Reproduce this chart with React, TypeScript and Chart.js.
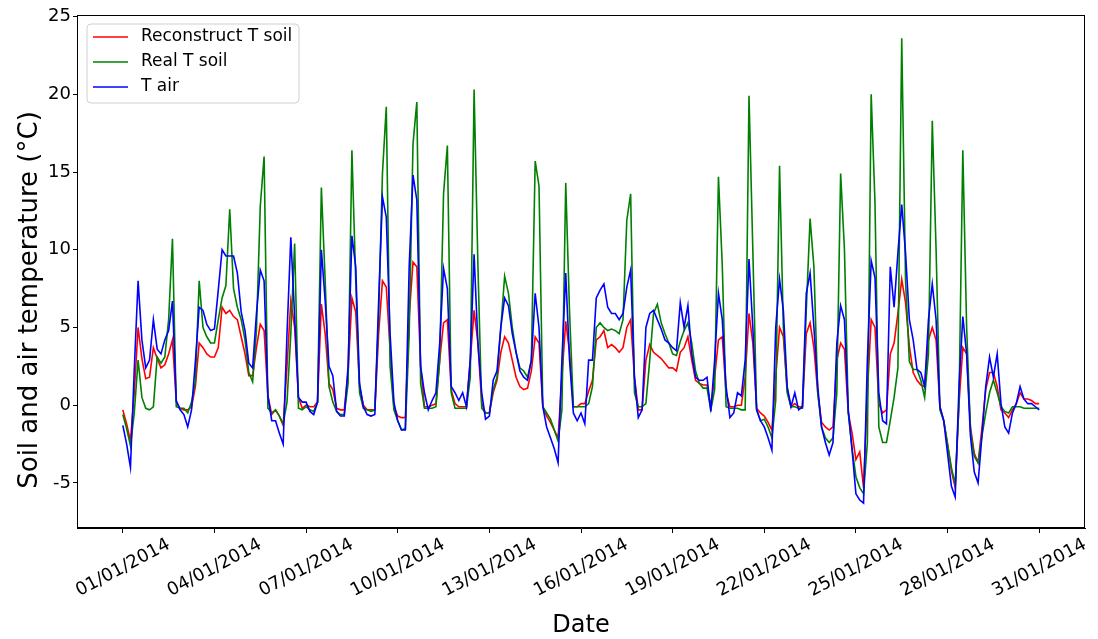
import React, { useEffect, useRef } from "react";
import { Chart, registerables } from "chart.js";

Chart.register(...registerables);

// Sampling step of the series (hours), starting 01/01/2014 00:00
const STEP_HOURS = 3;

const reconstructTSoil = [
  -0.3, -1.2, -2.3, 0.8, 5.0, 3.0, 1.7, 1.8,
  3.7, 3.0, 2.4, 2.6, 3.3, 4.2, 0.2, -0.2,
  -0.3, -0.3, -0.1, 1.2, 4.0, 3.7, 3.3, 3.1,
  3.1, 3.7, 6.3, 5.9, 6.1, 5.7, 5.5, 4.4,
  3.3, 1.9, 1.9, 3.7, 5.2, 4.8, 0.6, -0.6,
  -0.3, -0.7, -1.3, 2.5, 6.7, 5.0, 0.5, -0.2,
  0.0, -0.1, -0.1, 0.2, 6.5, 4.6, 1.4, 1.0,
  -0.2, -0.3, -0.3, 2.1, 6.9, 6.0, 1.2, 0.0,
  -0.3, -0.3, -0.3, 4.6, 8.0, 7.6, 3.6, -0.1,
  -0.7, -0.8, -0.8, 5.7, 9.2, 8.9, 2.5, -0.1,
  -0.1, 0.0, 0.1, 2.9, 5.3, 5.5, 1.0, 0.1,
  -0.1, -0.1, -0.1, 2.9, 6.1, 4.0, 0.1, -0.5,
  -0.5, 0.8, 1.6, 3.4, 4.4, 4.0, 2.9, 1.8,
  1.2, 1.0, 1.1, 2.2, 4.4, 4.0, -0.1, -0.7,
  -1.1, -1.6, -2.1, 1.8, 5.4, 3.4, -0.1, -0.1,
  0.1, 0.1, 0.9, 1.6, 4.2, 4.4, 4.8, 3.7,
  3.9, 3.7, 3.4, 3.7, 5.0, 5.5, 1.8, -0.3,
  -0.3, 2.9, 3.9, 3.4, 3.2, 3.0, 2.7, 2.4,
  2.4, 2.2, 3.4, 3.7, 4.4, 2.9, 1.6, 1.4,
  1.3, 1.3, -0.1, 1.8, 4.2, 4.4, 0.8, -0.1,
  -0.1, 0.0, 0.0, 1.8, 5.9, 4.0, -0.2, -0.5,
  -0.7, -1.1, -1.6, 1.8, 5.0, 4.4, 1.0, -0.1,
  0.1, -0.1, -0.1, 4.6, 5.3, 3.7, 0.8, -1.1,
  -1.4, -1.6, -1.4, 2.9, 4.0, 3.6, -0.5, -1.8,
  -3.5, -3.0, -5.3, 0.8, 5.5, 5.0, 0.1, -0.5,
  -0.3, 3.3, 4.0, 5.9, 8.1, 6.6, 3.8, 2.1,
  1.6, 1.3, 1.2, 4.2, 5.0, 4.2, -0.1, -1.0,
  -2.5, -4.2, -5.3, 0.1, 3.7, 3.3, -1.4, -3.1,
  -3.7, -1.5, 1.0, 2.1, 2.1, 1.2, -0.3, -0.5,
  -0.8, -0.3, 0.1, 0.8, 0.4, 0.4, 0.3, 0.1,
  0.1,
];

const realTSoil = [
  -0.6, -1.5, -2.6, -0.5, 2.9, 0.5, -0.2, -0.3,
  -0.1, 3.1, 2.7, 3.1, 5.5, 10.7, -0.1, -0.2,
  -0.2, -0.5, 0.2, 1.5, 8.0, 5.0, 4.4, 4.0,
  4.0, 5.5, 6.9, 7.7, 12.6, 7.5, 6.3, 5.5,
  4.2, 2.1, 1.5, 4.8, 12.8, 16.0, -0.2, -0.5,
  -0.3, -0.7, -1.2, 0.2, 4.6, 10.4, -0.2, -0.3,
  -0.1, -0.3, -0.4, 0.2, 14.0, 8.0, 1.2, 0.2,
  -0.4, -0.6, -0.6, 1.4, 16.4, 8.0, 0.8, -0.2,
  -0.3, -0.4, -0.3, 5.7, 14.9, 19.2, 2.5, -0.3,
  -1.0, -1.6, -1.5, 4.6, 16.8, 19.5, 1.4, -0.2,
  -0.2, -0.2, -0.1, 2.9, 13.6, 16.7, 0.8, -0.2,
  -0.2, -0.2, -0.2, 1.8, 20.3, 9.0, -0.2, -0.5,
  -0.5, 1.0, 1.8, 5.0, 8.3, 7.2, 5.0, 3.4,
  2.4, 2.2, 1.8, 2.9, 15.7, 14.1, -0.1, -0.5,
  -0.9, -1.6, -2.3, -0.3, 14.3, 6.0, -0.1, -0.1,
  -0.1, -0.1, 0.1, 1.2, 5.0, 5.3, 5.0, 4.8,
  4.9, 4.8, 4.6, 5.5, 11.9, 13.6, 0.8, -0.1,
  -0.1, 0.1, 2.9, 5.9, 6.5, 5.3, 4.6, 4.0,
  3.3, 3.2, 4.1, 4.8, 5.3, 4.0, 2.2, 1.4,
  1.1, 1.1, -0.3, 1.0, 14.7, 9.0, -0.1, -0.2,
  -0.2, -0.2, -0.3, -0.3, 19.9, 10.0, -0.3, -1.0,
  -0.9, -1.4, -2.1, 0.3, 15.4, 5.0, 0.8, -0.1,
  -0.1, -0.2, -0.2, 6.1, 12.0, 8.9, 0.8, -1.4,
  -2.1, -2.4, -2.1, 0.8, 14.9, 10.0, -0.5, -2.8,
  -4.6, -5.3, -5.7, -2.4, 20.0, 13.0, -1.4, -2.4,
  -2.4, -1.0, 0.5, 2.4, 23.6, 8.0, 2.8, 2.3,
  2.3, 1.6, 0.5, 3.3, 18.3, 10.0, -0.3, -1.0,
  -2.5, -4.0, -5.1, 0.1, 16.4, 5.0, -1.6, -3.3,
  -3.7, -2.0, -0.5, 0.8, 1.6, 0.8, -0.1, -0.4,
  -0.5, -0.1, -0.1, -0.1, -0.2, -0.2, -0.2, -0.2,
  -0.2,
];

const tAir = [
  -1.3, -2.5, -4.0, 2.3, 8.0, 4.2, 2.4, 2.9,
  5.5, 3.6, 3.3, 4.2, 4.8, 6.7, 0.3, -0.3,
  -0.6, -1.4, -0.3, 2.8, 6.3, 6.1, 5.2, 4.8,
  4.9, 7.4, 10.0, 9.6, 9.6, 9.6, 8.5, 6.0,
  4.8, 2.7, 2.4, 5.9, 8.7, 8.0, 0.6, -1.0,
  -1.0, -1.8, -2.5, 4.6, 10.8, 5.7, 0.5, 0.2,
  0.2, -0.4, -0.6, 0.2, 10.0, 6.7, 2.5, 1.9,
  -0.4, -0.7, -0.7, 2.5, 10.9, 8.9, 1.4, -0.1,
  -0.6, -0.7, -0.6, 6.7, 13.4, 12.1, 4.6, 0.2,
  -1.0, -1.6, -1.6, 8.9, 14.8, 13.2, 2.5, 0.8,
  -0.3, 0.3, 0.8, 4.0, 8.8, 7.5, 1.2, 0.8,
  0.3, 0.8, -0.1, 2.9, 9.7, 4.0, 0.8, -0.9,
  -0.7, 1.6, 2.2, 5.0, 6.9, 6.4, 4.6, 3.4,
  2.2, 1.8, 1.6, 2.9, 7.2, 5.0, -0.1, -1.4,
  -2.1, -2.8, -3.7, 2.9, 8.5, 2.9, -0.5, -1.0,
  -0.5, -1.2, 2.9, 2.9, 6.9, 7.4, 7.8, 6.3,
  5.9, 5.9, 5.5, 5.9, 7.6, 8.7, 1.8, -0.8,
  -0.3, 5.0, 5.9, 6.1, 5.5, 4.9, 4.2, 4.0,
  3.7, 3.5, 6.6, 5.0, 6.4, 3.3, 1.8, 1.6,
  1.6, 1.8, -0.4, 2.9, 7.2, 5.5, 1.2, -0.8,
  -0.5, 0.8, 0.6, 2.9, 9.4, 5.0, -0.3, -1.0,
  -1.4, -2.1, -2.9, 5.0, 8.1, 6.1, 1.2, -0.1,
  0.8, -0.3, -0.1, 7.2, 8.5, 5.0, 1.2, -1.4,
  -2.4, -3.2, -2.4, 4.0, 6.4, 5.5, -0.3, -2.9,
  -5.7, -6.1, -6.3, 2.9, 9.3, 8.2, 0.8, -1.0,
  -1.2, 8.9, 6.3, 9.8, 12.9, 9.8, 5.5, 4.2,
  2.3, 2.1, 1.2, 5.5, 7.8, 5.5, -0.1, -1.0,
  -3.1, -5.2, -5.9, 1.2, 5.7, 3.3, -2.0, -4.3,
  -5.0, -2.0, 1.2, 3.1, 1.8, 3.3, 0.1, -1.4,
  -1.8, -0.5, 0.1, 1.2, 0.4, 0.1, 0.1, -0.1,
  -0.3,
];

const seriesNames = ["Reconstruct T soil", "Real T soil", "T air"];
const seriesColors = ["#ff0000", "#008000", "#0000ff"];

const tickDays = [0, 3, 6, 9, 12, 15, 18, 21, 24, 27, 30];
const tickLabels = [
  "01/01/2014", "04/01/2014", "07/01/2014", "10/01/2014", "13/01/2014", "16/01/2014",
  "19/01/2014", "22/01/2014", "25/01/2014", "28/01/2014", "31/01/2014",
];
const yTicks = [-5, 0, 5, 10, 15, 20, 25];
const xTitle = "Date";
const yTitle = "Soil and air temperature (°C)";

const FONT = "'DejaVu Sans', sans-serif";

const framePlugin = {
  id: "frame",
  afterDatasetsDraw(chart: any) {
    const { ctx, chartArea } = chart;
    ctx.save();
    ctx.strokeStyle = "#000";
    ctx.lineWidth = 1;
    ctx.strokeRect(
      Math.round(chartArea.left) + 0.5,
      Math.round(chartArea.top) + 0.5,
      Math.round(chartArea.right - chartArea.left) - 1,
      Math.round(chartArea.bottom - chartArea.top) - 1
    );
    ctx.restore();
  },
};

const yTitlePlugin = {
  id: "yTitle",
  afterDraw(chart: any) {
    const { ctx } = chart;
    ctx.save();
    ctx.translate(30, 300);
    ctx.rotate(-Math.PI / 2);
    ctx.font = `26px ${FONT}`;
    ctx.fillStyle = "#000";
    ctx.textAlign = "center";
    ctx.textBaseline = "middle";
    ctx.fillText(yTitle, 0, 0);
    ctx.restore();
  },
};

const legendPlugin = {
  id: "innerLegend",
  afterDraw(chart: any) {
    const { ctx, chartArea } = chart;
    const x0 = chartArea.left + 10;
    const y0 = chartArea.top + 9;
    const w = 212;
    const h = 79;
    const r = 4;
    ctx.save();
    ctx.beginPath();
    ctx.moveTo(x0 + r, y0);
    ctx.lineTo(x0 + w - r, y0);
    ctx.quadraticCurveTo(x0 + w, y0, x0 + w, y0 + r);
    ctx.lineTo(x0 + w, y0 + h - r);
    ctx.quadraticCurveTo(x0 + w, y0 + h, x0 + w - r, y0 + h);
    ctx.lineTo(x0 + r, y0 + h);
    ctx.quadraticCurveTo(x0, y0 + h, x0, y0 + h - r);
    ctx.lineTo(x0, y0 + r);
    ctx.quadraticCurveTo(x0, y0, x0 + r, y0);
    ctx.closePath();
    ctx.fillStyle = "rgba(255,255,255,0.8)";
    ctx.fill();
    ctx.strokeStyle = "#d0d0d0";
    ctx.lineWidth = 1;
    ctx.stroke();
    ctx.font = `17px ${FONT}`;
    ctx.textBaseline = "middle";
    ctx.textAlign = "left";
    chart.data.datasets.forEach((ds: any, i: number) => {
      const yy = y0 + 13 + i * 25;
      ctx.beginPath();
      ctx.strokeStyle = ds.borderColor;
      ctx.lineWidth = 1.5;
      ctx.moveTo(x0 + 6, yy);
      ctx.lineTo(x0 + 41, yy);
      ctx.stroke();
      ctx.fillStyle = "#000";
      ctx.fillText(ds.label, x0 + 54, yy);
    });
    ctx.restore();
  },
};

export default function App() {
  const ref = useRef<HTMLCanvasElement>(null);

  useEffect(() => {
    const toPoints = (arr: number[]) =>
      arr.map((v, i) => ({ x: (i * STEP_HOURS) / 24, y: v }));
    const series = [reconstructTSoil, realTSoil, tAir];
    const chart = new Chart(ref.current as HTMLCanvasElement, {
      type: "line",
      data: {
        datasets: series.map((s, i) => ({
          label: seriesNames[i],
          data: toPoints(s),
          borderColor: seriesColors[i],
          backgroundColor: seriesColors[i],
          borderWidth: 1.6,
          pointRadius: 0,
          tension: 0,
          fill: false,
          order: 3 - i,
        })),
      },
      options: {
        animation: false,
        responsive: false,
        devicePixelRatio: 1,
        events: [],
        layout: { padding: { top: 15, right: 13, left: 0, bottom: 0 } },
        plugins: {
          legend: { display: false },
          tooltip: { enabled: false },
        },
        scales: {
          x: {
            type: "linear",
            min: -1.5,
            max: 31.5,
            afterBuildTicks: (s: any) => {
              s.ticks = tickDays.map((v) => ({ value: v }));
            },
            afterFit: (s: any) => {
              s.height = 111;
            },
            ticks: {
              autoSkip: false,
              minRotation: 28,
              maxRotation: 28,
              labelOffset: 46,
              padding: 1,
              color: "#000",
              font: { family: FONT, size: 18 },
              callback: (v: any) => {
                const k = tickDays.indexOf(Number(v));
                return k >= 0 ? tickLabels[k] : "";
              },
            },
            grid: {
              drawOnChartArea: false,
              drawTicks: true,
              tickLength: 5,
              tickColor: "#000",
            },
            border: { display: true, color: "#000" },
            title: {
              display: true,
              text: xTitle,
              color: "#000",
              font: { family: FONT, size: 24 },
              padding: { top: 0, bottom: -1 },
            },
          },
          y: {
            type: "linear",
            min: -7.9,
            max: 25.1,
            afterBuildTicks: (s: any) => {
              s.ticks = yTicks.map((v) => ({ value: v }));
            },
            afterFit: (s: any) => {
              s.width = 77;
            },
            ticks: {
              padding: 2,
              color: "#000",
              font: { family: FONT, size: 18 },
            },
            grid: {
              drawOnChartArea: false,
              drawTicks: true,
              tickLength: 4,
              tickColor: "#000",
            },
            border: { display: true, color: "#000" },
            title: { display: false },
          },
        },
      },
      plugins: [framePlugin, legendPlugin, yTitlePlugin],
    });
    return () => chart.destroy();
  }, []);

  return (
    <div
      style={{
        position: "absolute",
        left: 0,
        top: 0,
        width: 1098,
        height: 639,
        background: "#fff",
      }}
    >
      <canvas ref={ref} width={1098} height={639} style={{ display: "block" }} />
    </div>
  );
}
